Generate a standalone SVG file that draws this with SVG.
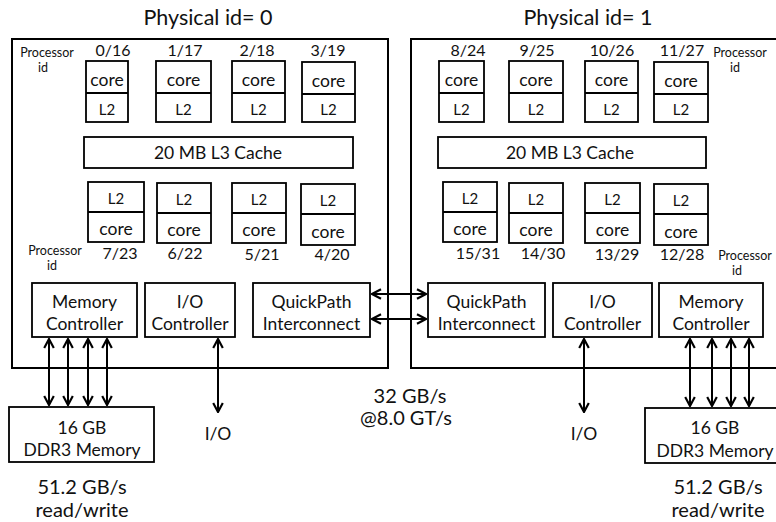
<svg xmlns="http://www.w3.org/2000/svg" width="776" height="522" viewBox="0 0 776 522">
<style>
text{font-family:Lato,"Open Sans","Liberation Sans",sans-serif;fill:#111;text-anchor:middle}
.t{font-size:21.5px}
.m{font-size:17.5px}
.n{font-size:16px}
.s{font-size:15px}
.x{font-size:12.5px}
.w{font-size:20px}
.b{fill:#fff;stroke:#000;stroke-width:1.8}
.d{stroke:#000;stroke-width:1.8}
.chip{fill:#fff;stroke:#000;stroke-width:2}
.c line{stroke:#000;stroke-width:2}
</style>
<defs>
<marker id="ah" viewBox="0 0 10 10" refX="9" refY="5" markerWidth="6" markerHeight="6" orient="auto-start-reverse" markerUnits="strokeWidth">
<path d="M1.5,1 L9,5 L1.5,9" fill="none" stroke="#000" stroke-width="1.8"/>
</marker>
</defs>
<rect width="776" height="522" fill="#fff"/>
<text class="t" x="208" y="25">Physical id= 0</text>
<text class="t" x="588" y="25">Physical id= 1</text>
<g id="chip0"><rect class="chip" x="12" y="39" width="376" height="329"/></g>
<g id="chip1"><rect class="chip" x="411" y="39" width="370" height="329"/></g>
<g id="labels0">
<text class="x" x="47" y="57">Processor</text><text class="x" x="43" y="72">id</text>
<text class="n" x="113" y="56">0/16</text><text class="n" x="185" y="56">1/17</text><text class="n" x="257" y="56">2/18</text><text class="n" x="328" y="56">3/19</text>
<text class="x" x="55" y="255">Processor</text><text class="x" x="52" y="270">id</text>
<text class="n" x="120" y="259">7/23</text><text class="n" x="185" y="259">6/22</text><text class="n" x="262" y="260">5/21</text><text class="n" x="332" y="260">4/20</text>
</g>
<g id="labels1">
<text class="n" x="468" y="56">8/24</text><text class="n" x="537" y="56">9/25</text><text class="n" x="612" y="56">10/26</text><text class="n" x="682" y="56">11/27</text>
<text class="x" x="740" y="57">Processor</text><text class="x" x="735" y="72">id</text>
<text class="n" x="478" y="259">15/31</text><text class="n" x="543" y="259">14/30</text><text class="n" x="617" y="260">13/29</text><text class="n" x="682" y="260">12/28</text>
<text class="x" x="745" y="260">Processor</text><text class="x" x="737" y="275">id</text>
</g>
<g id="core0"><rect class="b" x="86" y="61" width="42" height="61"/><line class="d" x1="86" y1="93" x2="128" y2="93"/><text class="m" x="107" y="86">core</text><text class="s" x="107" y="115">L2</text></g>
<g id="core1"><rect class="b" x="156" y="61" width="55" height="61"/><line class="d" x1="156" y1="93" x2="211" y2="93"/><text class="m" x="183.5" y="86">core</text><text class="s" x="183.5" y="115">L2</text></g>
<g id="core2"><rect class="b" x="232" y="61" width="53" height="61"/><line class="d" x1="232" y1="93" x2="285" y2="93"/><text class="m" x="258.5" y="86">core</text><text class="s" x="258.5" y="115">L2</text></g>
<g id="core3"><rect class="b" x="302" y="62" width="53" height="60"/><line class="d" x1="302" y1="94" x2="355" y2="94"/><text class="m" x="328.5" y="87">core</text><text class="s" x="328.5" y="115">L2</text></g>
<g id="l3_0"><rect class="b" x="84" y="137" width="269" height="31"/><text class="m" x="218" y="159">20 MB L3 Cache</text></g>
<g id="core7"><rect class="b" x="88" y="182" width="56" height="60"/><line class="d" x1="88" y1="212" x2="144" y2="212"/><text class="s" x="116" y="204">L2</text><text class="m" x="116" y="235">core</text></g>
<g id="core6"><rect class="b" x="157" y="183" width="54" height="60"/><line class="d" x1="157" y1="213" x2="211" y2="213"/><text class="s" x="184" y="205">L2</text><text class="m" x="184" y="236">core</text></g>
<g id="core5"><rect class="b" x="232" y="183" width="54" height="60"/><line class="d" x1="232" y1="213" x2="286" y2="213"/><text class="s" x="259" y="205">L2</text><text class="m" x="259" y="236">core</text></g>
<g id="core4"><rect class="b" x="301" y="184" width="54" height="61"/><line class="d" x1="301" y1="214" x2="355" y2="214"/><text class="s" x="328" y="206">L2</text><text class="m" x="328" y="238">core</text></g>
<g id="core8"><rect class="b" x="439" y="61" width="45" height="61"/><line class="d" x1="439" y1="93" x2="484" y2="93"/><text class="m" x="461.5" y="86">core</text><text class="s" x="461.5" y="115">L2</text></g>
<g id="core9"><rect class="b" x="509" y="61" width="54" height="61"/><line class="d" x1="509" y1="93" x2="563" y2="93"/><text class="m" x="536" y="86">core</text><text class="s" x="536" y="115">L2</text></g>
<g id="core10"><rect class="b" x="585" y="61" width="53" height="61"/><line class="d" x1="585" y1="93" x2="638" y2="93"/><text class="m" x="611.5" y="86">core</text><text class="s" x="611.5" y="115">L2</text></g>
<g id="core11"><rect class="b" x="654" y="62" width="54" height="60"/><line class="d" x1="654" y1="94" x2="708" y2="94"/><text class="m" x="681" y="87">core</text><text class="s" x="681" y="115">L2</text></g>
<g id="l3_1"><rect class="b" x="438" y="137" width="268" height="31"/><text class="m" x="570" y="159">20 MB L3 Cache</text></g>
<g id="core15"><rect class="b" x="443" y="182" width="54" height="60"/><line class="d" x1="443" y1="212" x2="497" y2="212"/><text class="s" x="470" y="204">L2</text><text class="m" x="470" y="235">core</text></g>
<g id="core14"><rect class="b" x="509" y="183" width="54" height="60"/><line class="d" x1="509" y1="213" x2="563" y2="213"/><text class="s" x="536" y="205">L2</text><text class="m" x="536" y="236">core</text></g>
<g id="core13"><rect class="b" x="585" y="183" width="55" height="60"/><line class="d" x1="585" y1="213" x2="640" y2="213"/><text class="s" x="612.5" y="205">L2</text><text class="m" x="612.5" y="236">core</text></g>
<g id="core12"><rect class="b" x="654" y="184" width="54" height="61"/><line class="d" x1="654" y1="214" x2="708" y2="214"/><text class="s" x="681" y="206">L2</text><text class="m" x="681" y="238">core</text></g>
<g id="memctl0"><rect class="b" x="32" y="283" width="105" height="54"/><text class="m" x="84.5" y="308">Memory</text><text class="m" x="84.5" y="330">Controller</text></g>
<g id="ioctl0"><rect class="b" x="145" y="283" width="90" height="54"/><text class="m" x="190" y="308">I/O</text><text class="m" x="190" y="330">Controller</text></g>
<g id="qpi0"><rect class="b" x="253" y="283" width="117" height="54"/><text class="m" x="311.5" y="308">QuickPath</text><text class="m" x="311.5" y="330">Interconnect</text></g>
<g id="qpi1"><rect class="b" x="428" y="283" width="117" height="54"/><text class="m" x="486.5" y="308">QuickPath</text><text class="m" x="486.5" y="330">Interconnect</text></g>
<g id="ioctl1"><rect class="b" x="553" y="283" width="99" height="54"/><text class="m" x="602.5" y="308">I/O</text><text class="m" x="602.5" y="330">Controller</text></g>
<g id="memctl1"><rect class="b" x="659" y="283" width="104" height="54"/><text class="m" x="711" y="308">Memory</text><text class="m" x="711" y="330">Controller</text></g>
<g id="mem0"><rect class="b" x="9" y="407" width="145" height="55"/><text class="m" x="82" y="434">16 GB</text><text class="m" x="82" y="456">DDR3 Memory</text></g>
<g id="mem1"><rect class="b" x="645" y="408" width="135" height="55"/><text class="m" x="715" y="434">16 GB</text><text class="m" x="715" y="457">DDR3 Memory</text></g>
<g id="io0"><text class="m" x="218" y="440">I/O</text></g>
<g id="io1"><text class="m" x="584" y="440">I/O</text></g>
<g id="bw">
<text class="w" x="82" y="494">51.2 GB/s</text><text class="w" x="82" y="517">read/write</text>
<text class="w" x="718" y="494">51.2 GB/s</text><text class="w" x="718" y="517">read/write</text>
<text class="w" x="410" y="403">32 GB/s</text><text class="w" x="406" y="425">@8.0 GT/s</text>
</g>
<g id="connectors" class="c">
<line x1="49" y1="339" x2="49" y2="405" marker-start="url(#ah)" marker-end="url(#ah)"/>
<line x1="68" y1="339" x2="68" y2="405" marker-start="url(#ah)" marker-end="url(#ah)"/>
<line x1="88" y1="339" x2="88" y2="405" marker-start="url(#ah)" marker-end="url(#ah)"/>
<line x1="107" y1="339" x2="107" y2="405" marker-start="url(#ah)" marker-end="url(#ah)"/>
<line x1="218" y1="339" x2="218" y2="412" marker-start="url(#ah)" marker-end="url(#ah)"/>
<line x1="372" y1="294" x2="426" y2="294" marker-start="url(#ah)" marker-end="url(#ah)"/>
<line x1="372" y1="319" x2="426" y2="319" marker-start="url(#ah)" marker-end="url(#ah)"/>
<line x1="584" y1="339" x2="584" y2="412" marker-start="url(#ah)" marker-end="url(#ah)"/>
<line x1="690" y1="339" x2="690" y2="406" marker-start="url(#ah)" marker-end="url(#ah)"/>
<line x1="712" y1="339" x2="712" y2="406" marker-start="url(#ah)" marker-end="url(#ah)"/>
<line x1="731" y1="339" x2="731" y2="406" marker-start="url(#ah)" marker-end="url(#ah)"/>
<line x1="749" y1="339" x2="749" y2="406" marker-start="url(#ah)" marker-end="url(#ah)"/>
</g>
</svg>
